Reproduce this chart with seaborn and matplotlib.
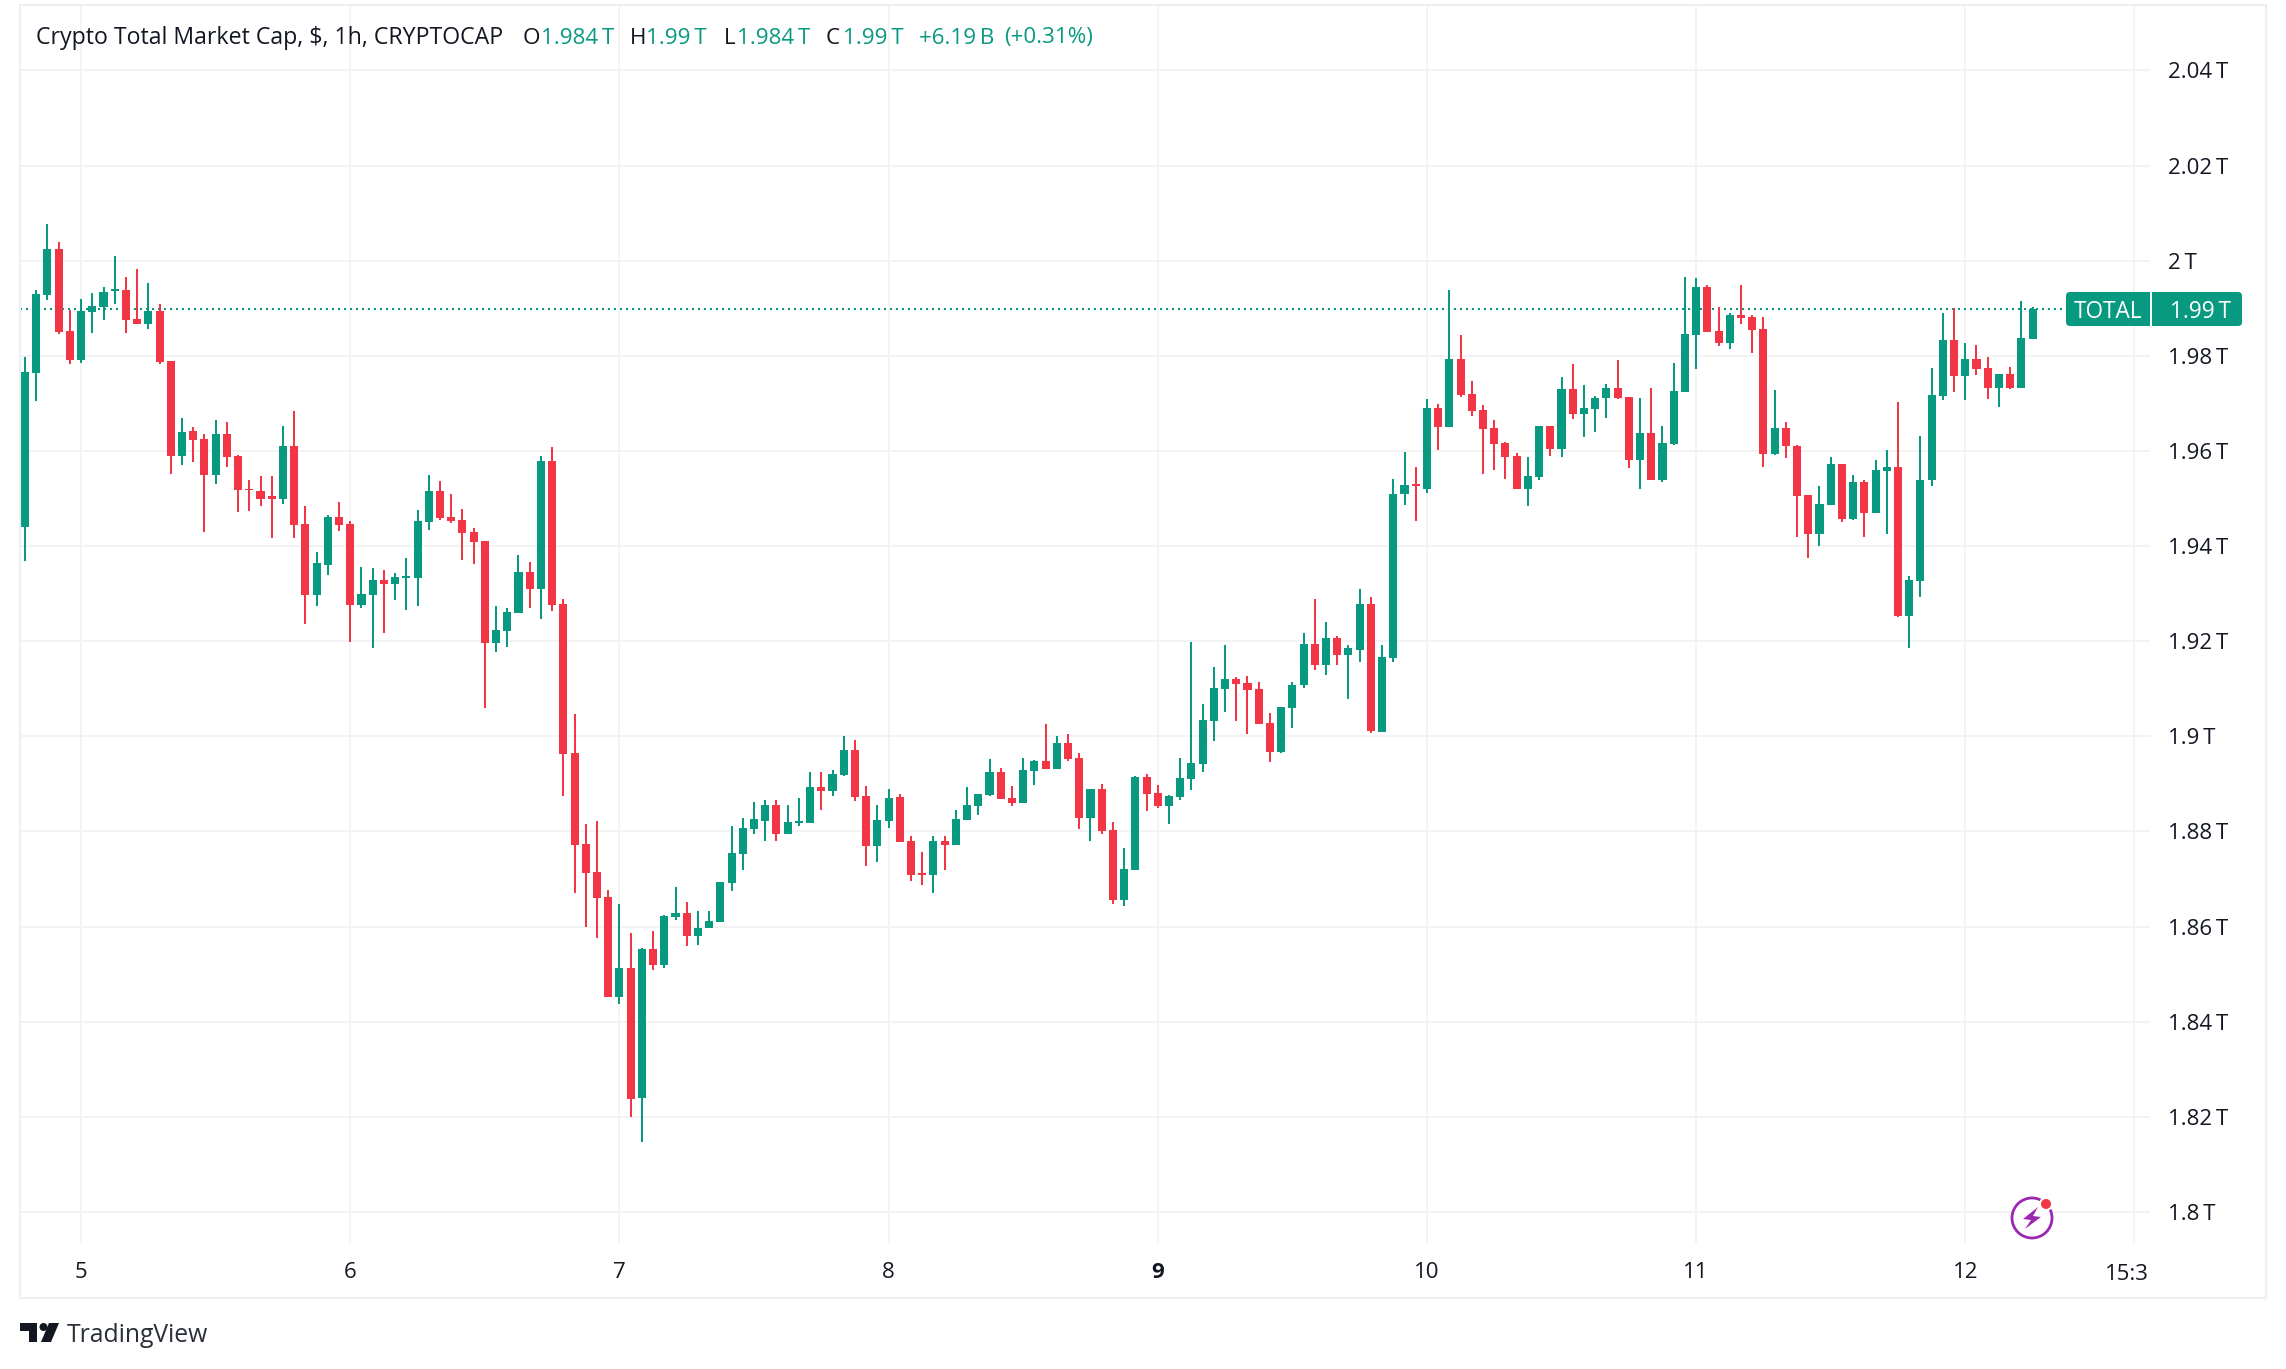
import numpy as np
import pandas as pd
import matplotlib
matplotlib.use("Agg")
import matplotlib.pyplot as plt
from matplotlib.patches import Rectangle, FancyBboxPatch, Circle, Polygon
from matplotlib.transforms import Affine2D
import seaborn as sns

# Hourly candles, billions of USD
highs = [1979.7,1993.8,2007.7,2003.9,1989.6,1991.9,1993.2,1994.5,2001.0,1996.6,
 1998.2,1995.3,1990.9,1978.9,1966.9,1965.0,1963.5,1966.5,1966.0,1959.1,
 1953.8,1954.7,1954.7,1965.2,1968.4,1948.4,1938.7,1946.5,1949.2,1945.2,
 1935.7,1935.3,1934.9,1934.3,1937.4,1947.5,1954.9,1953.6,1950.9,1947.7,
 1943.7,1941.0,1927.3,1926.9,1938.1,1936.6,1958.9,1960.8,1928.8,1904.6,
 1881.5,1882.2,1867.6,1864.7,1858.6,1855.5,1859.1,1862.4,1868.3,1865.1,
 1863.2,1863.2,1869.3,1881.1,1882.8,1886.1,1886.7,1886.7,1885.6,1887.1,
 1892.4,1892.6,1893.0,1900.1,1899.3,1889.6,1885.6,1889.0,1887.9,1879.1,
 1875.7,1879.1,1879.1,1884.6,1889.4,1887.9,1895.3,1893.4,1889.6,1895.5,
 1895.1,1902.5,1900.1,1900.4,1896.6,1889.0,1890.0,1882.0,1876.6,1891.7,
 1892.1,1889.8,1887.7,1895.5,1919.9,1906.9,1914.5,1919.3,1912.4,1912.6,
 1911.5,1905.0,1906.2,1911.5,1921.8,1928.8,1924.1,1921.2,1919.1,1930.9,
 1929.4,1919.3,1954.2,1959.7,1956.6,1970.9,1969.8,1993.8,1984.4,1974.7,
 1969.6,1966.5,1961.8,1959.5,1958.7,1965.2,1965.2,1975.5,1978.2,1973.8,
 1971.5,1974.0,1979.1,1971.3,1971.1,1973.2,1965.2,1978.5,1996.6,1996.4,
 1994.9,1990.2,1989.0,1994.9,1988.6,1988.1,1972.8,1966.0,1961.2,1950.7,
 1952.6,1958.7,1957.2,1954.9,1953.8,1958.2,1960.1,1970.2,1933.8,1963.1,
 1977.4,1989.0,1990.0,1982.7,1982.2,1979.7,1976.1,1977.6,1991.5,1990.2]
lows = [1936.8,1970.5,1991.7,1984.6,1978.2,1978.5,1984.8,1987.5,1990.9,1984.8,
 1986.7,1985.6,1978.2,1955.1,1957.0,1957.6,1942.9,1953.0,1956.6,1947.1,
 1947.3,1948.4,1941.8,1948.8,1941.6,1923.7,1927.5,1934.0,1943.1,1919.9,
 1926.9,1918.5,1921.7,1928.6,1926.5,1927.3,1943.3,1945.4,1944.8,1937.0,
 1936.2,1905.9,1917.7,1918.7,1925.9,1926.9,1924.6,1926.3,1887.4,1867.0,
 1859.9,1857.6,1845.2,1843.7,1820.0,1814.8,1850.9,1851.3,1861.4,1855.9,
 1856.1,1859.7,1860.9,1867.4,1871.9,1879.4,1878.0,1878.0,1879.5,1881.2,
 1881.8,1884.6,1887.5,1891.7,1886.5,1872.8,1873.6,1880.8,1877.8,1869.6,
 1868.8,1867.1,1871.9,1877.2,1882.5,1883.5,1887.5,1886.9,1885.4,1886.0,
 1889.8,1893.2,1893.2,1894.9,1880.6,1878.0,1879.5,1864.8,1864.4,1871.9,
 1884.4,1885.0,1881.6,1886.7,1888.8,1892.4,1899.1,1905.2,1903.3,1900.4,
 1902.7,1894.7,1896.4,1901.8,1910.2,1914.0,1913.0,1915.1,1907.9,1915.7,
 1900.6,1901.0,1915.7,1948.6,1945.2,1951.1,1960.1,1965.0,1971.3,1967.3,
 1955.1,1956.1,1954.2,1952.1,1948.4,1953.8,1958.9,1958.7,1966.7,1962.9,
 1963.9,1966.9,1970.9,1956.4,1952.1,1953.8,1953.4,1961.2,1972.4,1977.2,
 1985.0,1982.0,1981.4,1986.7,1980.6,1956.6,1959.1,1958.5,1942.0,1937.6,
 1940.1,1948.6,1945.0,1945.4,1942.0,1946.9,1942.5,1925.0,1918.5,1929.2,
 1952.6,1970.7,1972.4,1970.7,1975.9,1970.9,1969.2,1973.0,1973.2,1983.5]
opens = [1944.1,1976.4,1992.8,2002.5,1985.2,1979.1,1989.2,1990.2,1993.6,1993.8,
 1987.7,1986.7,1989.4,1978.9,1958.9,1964.1,1962.5,1954.9,1963.5,1958.9,
 1952.1,1951.5,1950.5,1949.8,1961.0,1944.6,1929.8,1936.1,1946.2,1944.6,
 1927.7,1929.8,1932.9,1932.0,1933.3,1933.3,1945.0,1951.6,1946.2,1945.4,
 1942.9,1941.0,1919.6,1922.1,1925.9,1934.5,1931.0,1957.8,1927.9,1896.5,
 1877.4,1871.5,1866.2,1845.2,1851.3,1824.0,1855.3,1852.0,1862.0,1862.8,
 1858.0,1859.7,1860.9,1869.1,1875.3,1880.5,1882.2,1885.6,1879.5,1881.8,
 1881.8,1889.4,1888.6,1891.9,1897.2,1887.5,1877.0,1882.2,1887.3,1878.0,
 1871.3,1870.9,1878.0,1877.2,1882.5,1885.4,1887.7,1892.6,1887.1,1886.0,
 1892.8,1894.9,1893.2,1898.7,1895.5,1882.9,1889.0,1880.4,1865.6,1871.9,
 1891.5,1888.1,1885.4,1887.3,1891.1,1894.2,1903.3,1910.0,1912.1,1911.3,
 1910.0,1902.9,1896.8,1906.0,1910.7,1919.5,1915.1,1920.6,1917.0,1918.2,
 1927.9,1901.0,1916.4,1950.9,1953.0,1952.1,1969.0,1965.0,1979.3,1971.9,
 1968.6,1964.8,1961.6,1958.9,1952.1,1954.5,1965.2,1960.4,1973.0,1967.7,
 1968.8,1971.1,1973.2,1971.3,1958.0,1963.7,1954.0,1961.4,1972.4,1984.4,
 1994.5,1985.2,1982.7,1988.6,1988.1,1985.6,1959.3,1964.8,1961.0,1950.7,
 1942.5,1948.6,1957.2,1945.6,1953.4,1946.9,1955.7,1956.6,1925.4,1932.6,
 1953.8,1971.5,1983.3,1975.7,1979.3,1977.4,1973.2,1976.1,1973.2,1983.5]
closes = [1976.6,1993.0,2002.5,1985.0,1979.1,1989.4,1990.5,1993.4,1994.0,1987.5,
 1986.7,1989.4,1978.7,1958.9,1963.9,1962.2,1954.9,1963.5,1958.7,1951.7,
 1951.7,1950.0,1950.0,1961.0,1944.4,1929.8,1936.4,1946.2,1944.4,1927.7,
 1930.0,1932.8,1932.0,1933.5,1933.7,1945.2,1951.6,1946.0,1945.2,1942.7,
 1940.8,1919.6,1922.3,1926.1,1934.5,1931.0,1957.8,1927.7,1896.3,1877.1,
 1871.3,1866.0,1845.2,1851.3,1823.7,1855.3,1852.0,1862.2,1862.8,1858.0,
 1859.7,1861.2,1869.3,1875.5,1880.7,1882.6,1885.6,1879.5,1882.0,1882.2,
 1889.4,1888.6,1892.1,1897.2,1887.3,1877.0,1882.5,1887.1,1877.8,1870.9,
 1870.9,1878.0,1877.2,1882.7,1885.6,1887.9,1892.6,1886.9,1886.0,1893.0,
 1894.9,1893.2,1898.7,1895.3,1882.9,1889.0,1880.1,1865.6,1872.1,1891.5,
 1887.9,1885.4,1887.5,1891.3,1894.5,1903.5,1910.2,1912.1,1911.1,1909.8,
 1902.7,1896.8,1906.2,1910.9,1919.5,1915.1,1920.6,1917.0,1918.5,1927.9,
 1901.2,1916.6,1951.0,1952.8,1952.6,1969.0,1965.0,1979.3,1971.7,1968.4,
 1964.6,1961.4,1958.7,1952.1,1954.7,1965.2,1960.4,1973.0,1967.7,1969.0,
 1971.1,1973.2,1971.1,1958.0,1963.7,1953.8,1961.6,1972.6,1984.6,1994.5,
 1985.0,1982.7,1988.6,1987.9,1985.4,1959.3,1964.8,1961.0,1950.5,1942.5,
 1948.8,1957.2,1945.6,1953.4,1946.9,1955.9,1956.6,1925.4,1932.8,1954.0,
 1971.7,1983.3,1975.7,1979.3,1977.2,1973.2,1976.1,1973.2,1983.7,1989.8]

day_ticks = [5, 29, 53, 77, 101, 125, 149, 173, 188]
day_labels = ["5", "6", "7", "8", "9", "10", "11", "12", ""]
price_ticks = [1.80, 1.82, 1.84, 1.86, 1.88, 1.90, 1.92, 1.94, 1.96, 1.98, 2.00, 2.02, 2.04]
TS = "\u2009"
price_labels = [f"{t}{TS}T" for t in ["1.8", "1.82", "1.84", "1.86", "1.88", "1.9", "1.92",
                                      "1.94", "1.96", "1.98", "2", "2.02", "2.04"]]
last_price = 1.9898

GREEN, RED = "#089981", "#F23645"
GRID, BORDER, INK = "#F3F3F4", "#EEEFF4", "#131722"
FONT = ["Open Sans", "DejaVu Sans"]

W, H = 2286, 1369
sns.set_theme(style="white")
plt.rcParams["font.family"] = FONT
plt.rcParams["text.color"] = INK

df = pd.DataFrame({"i": np.arange(len(opens)), "o": opens, "c": closes, "h": highs, "l": lows})
df[["o", "c", "h", "l"]] /= 1000
df["bottom"] = df[["o", "c"]].min(axis=1)
df["size"] = (df["c"] - df["o"]).abs()
df["up"] = df["c"] >= df["o"]

fig = plt.figure(figsize=(W / 100, H / 100), dpi=100, facecolor="white")
px = Affine2D().scale(1, -1).translate(0, H)  # figure pixels, origin top-left
ax = fig.add_axes([20 / W, 1 - 1243 / H, 2130 / W, 1238 / H])
ax.set_facecolor("white")

for t in price_ticks:
    ax.axhline(t, color=GRID, lw=1.4, zorder=0.5)
for t in day_ticks:
    ax.axvline(t, color=GRID, lw=1.4, zorder=0.5)

ax.hlines(last_price, -1, 181.6, color=GREEN, lw=1.44, linestyles=[(0, (1, 2))], zorder=1)

for up, col in [(True, GREEN), (False, RED)]:
    part = df[df["up"] == up]
    wick = part.melt(id_vars="i", value_vars=["h", "l"], value_name="p").sort_values(["i", "variable"])
    sns.lineplot(data=wick, x="i", y="p", units="i", estimator=None, sort=False, color=col,
                 linewidth=1.44, solid_capstyle="butt", legend=False, ax=ax, zorder=2)
    sns.barplot(x=part["i"].to_numpy(), y=part["size"].to_numpy(), bottom=part["bottom"].to_numpy(),
                native_scale=True, color=col, saturation=1, width=0.72, linewidth=0,
                errorbar=None, legend=False, ax=ax, zorder=3)

ax.set_xlim(-0.446, 189.47)
ax.set_ylim(1.79348, 2.05376)
ax.set_xlabel("")
ax.set_ylabel("")
sns.despine(ax=ax, left=True, bottom=True, right=True, top=True)
ax.set_xticks(day_ticks, day_labels)
ax.set_yticks(price_ticks, price_labels)
ax.yaxis.tick_right()
ax.tick_params(axis="y", length=0, pad=13, labelsize=16, labelcolor=INK)
ax.tick_params(axis="x", length=0, pad=14, labelsize=16, labelcolor=INK)
for lab in ax.get_yticklabels():
    lab.set_y(lab.get_position()[1])
for lab in ax.get_xticklabels():
    if lab.get_text() == "9":
        lab.set_fontweight("bold")

# Clipped time label at the right end of the time axis
fig.text(2127, 1274, "15:3", transform=px, ha="center", va="center", fontsize=16)

# Outer frame
fig.add_artist(Rectangle((20, 5), 2246, 1293, transform=px, fill=False, ec=BORDER, lw=1.5))

# Header
fig.text(36, 38, "Crypto Total Market Cap, $, 1h, CRYPTOCAP", transform=px, ha="left", va="center",
         fontsize=16.7, color=INK)
for x, s, c in [(523, "O", INK), (541, f"1.984{TS}T", GREEN),
                (630, "H", INK), (646, f"1.99{TS}T", GREEN),
                (724, "L", INK), (737, f"1.984{TS}T", GREEN),
                (826, "C", INK), (843, f"1.99{TS}T", GREEN),
                (919, f"+6.19{TS}B", GREEN), (1004, "(+0.31%)", GREEN)]:
    fig.text(x, 38, s, transform=px, ha="left", va="center", fontsize=16.1, color=c)

# Last price badges
fig.add_artist(FancyBboxPatch((2069, 295), 78, 28, boxstyle="round,pad=3,rounding_size=4",
                              transform=px, fc=GREEN, ec="none"))
fig.add_artist(FancyBboxPatch((2155, 295), 84, 28, boxstyle="round,pad=3,rounding_size=4",
                              transform=px, fc=GREEN, ec="none"))
fig.add_artist(Rectangle((2147, 292), 3, 34, transform=px, fc=GREEN, ec="none"))
fig.add_artist(Rectangle((2152, 292), 4, 34, transform=px, fc=GREEN, ec="none"))
fig.text(2108, 312, "TOTAL", transform=px, ha="center", va="center", fontsize=16.3, color="white",
         fontweight="medium")
fig.text(2200, 312, f"1.99{TS}T", transform=px, ha="center", va="center", fontsize=16.3, color="white",
         fontweight="medium")

# Lightning badge
PURPLE = "#9C27B0"
fig.add_artist(Circle((2032, 1218), 20, transform=px, fc="white", ec=PURPLE, lw=2))
fig.add_artist(Polygon([(2038, 1207), (2023, 1219), (2031, 1220), (2025, 1229), (2041, 1217), (2033, 1216)],
                       transform=px, fc=PURPLE, ec="none"))
fig.add_artist(Circle((2046, 1204), 7, transform=px, fc="white", ec="none"))
fig.add_artist(Circle((2046, 1204), 5, transform=px, fc=RED, ec="none"))

# TradingView logo
LOGO = "#131722"
fig.add_artist(Polygon([(20, 1323), (37, 1323), (37, 1342), (29, 1342), (29, 1331), (20, 1331)],
                       transform=px, fc=LOGO, ec="none"))
fig.add_artist(Circle((43.5, 1327), 4, transform=px, fc=LOGO, ec="none"))
fig.add_artist(Polygon([(49, 1323), (59, 1323), (51, 1342), (41, 1342)], transform=px, fc=LOGO, ec="none"))
fig.text(67, 1336, "TradingView", transform=px, ha="left", va="center", fontsize=17.8, color="#2A2E39")

fig.savefig("out.png", dpi=100)
